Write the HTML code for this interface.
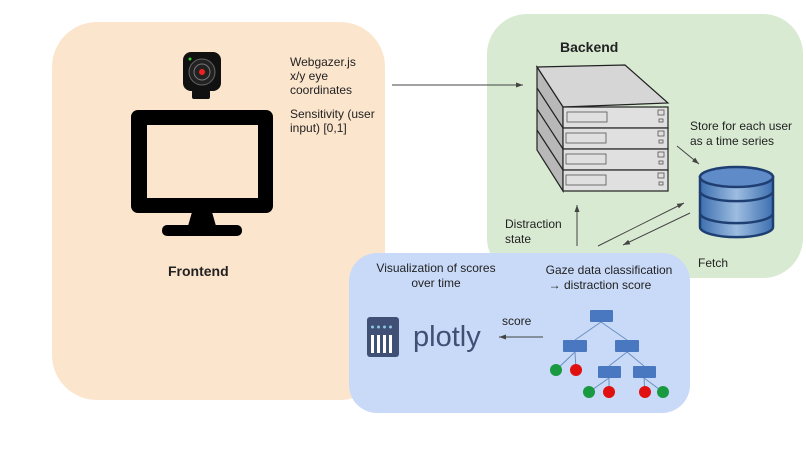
<!DOCTYPE html>
<html><head><meta charset="utf-8"><style>
body{margin:0;background:#fff}
svg text{font-family:"Liberation Sans",sans-serif;fill:#222}
</style></head><body>
<svg width="806" height="453" viewBox="0 0 806 453" xmlns="http://www.w3.org/2000/svg">
<defs><marker id="a" markerWidth="8" markerHeight="8" refX="7" refY="4" orient="auto" markerUnits="userSpaceOnUse"><path d="M0,1.5 L7,4 L0,6.5z" fill="#444"/></marker>
<linearGradient id="db" x1="0" x2="1"><stop offset="0" stop-color="#3d6fb0"/><stop offset=".5" stop-color="#9dbde0"/><stop offset="1" stop-color="#3d6fb0"/></linearGradient></defs>
<rect x="52" y="22" width="333" height="378" rx="45" fill="#fce5cd"/>
<rect x="487" y="14" width="316" height="264" rx="40" fill="#d9ead3"/>
<rect x="349" y="253" width="341" height="160" rx="28" fill="#c9daf8"/>
<!-- camera -->
<rect x="192" y="90" width="18" height="9" rx="2" fill="#111"/>
<rect x="183" y="52" width="38" height="39" rx="8" fill="#111"/>
<circle cx="202" cy="72" r="13" fill="#222" stroke="#666" stroke-width="1"/>
<circle cx="202" cy="72" r="8" fill="none" stroke="#777" stroke-width="1"/>
<circle cx="202" cy="72" r="3" fill="#e22"/>
<circle cx="190" cy="59" r="1.5" fill="#3c3"/>
<!-- monitor -->
<rect x="131" y="110" width="142" height="103" rx="7" fill="#000"/>
<rect x="147" y="125" width="111" height="73" fill="#fce5cd"/>
<path d="M192,212 L212,212 L216,226 L188,226z" fill="#000"/>
<rect x="162" y="225" width="80" height="11" rx="5" fill="#000"/>
<text x="168" y="276" font-size="14" font-weight="bold">Frontend</text>
<text font-size="12"><tspan x="290" y="66">Webgazer.js</tspan><tspan x="290" y="80">x/y eye</tspan><tspan x="290" y="94">coordinates</tspan><tspan x="290" y="118">Sensitivity (user</tspan><tspan x="290" y="132">input) [0,1]</tspan></text>
<line x1="392" y1="85" x2="523" y2="85" stroke="#444" marker-end="url(#a)"/>
<text x="560" y="52" font-size="14" font-weight="bold">Backend</text>
<!-- server -->
<g stroke="#222" stroke-width="1.2">
<path d="M537,67 L625,65 L668,103 L563,107z" fill="#d6d6d6"/>
<path d="M537,67 L563,107 L563,191 L537,150z" fill="#b8b8b8"/>
<rect x="563" y="107" width="105" height="21" fill="#e0e0e0"/>
<rect x="563" y="128" width="105" height="21" fill="#e0e0e0"/>
<rect x="563" y="149" width="105" height="21" fill="#e0e0e0"/>
<rect x="563" y="170" width="105" height="21" fill="#e0e0e0"/>
<path d="M537,88 L563,128 M537,109 L563,149 M537,130 L563,170" fill="none"/>
</g>
<g fill="none" stroke="#555" stroke-width=".8">
<rect x="567" y="112" width="40" height="10"/><rect x="566" y="133" width="40" height="10"/><rect x="566" y="154" width="40" height="10"/><rect x="566" y="175" width="40" height="10"/>
<rect x="658" y="110" width="6" height="5"/><rect x="659" y="119" width="4" height="3"/>
<rect x="658" y="131" width="6" height="5"/><rect x="659" y="140" width="4" height="3"/>
<rect x="658" y="152" width="6" height="5"/><rect x="659" y="161" width="4" height="3"/>
<rect x="658" y="173" width="6" height="5"/><rect x="659" y="182" width="4" height="3"/>
</g>
<text font-size="12"><tspan x="690" y="130">Store for each user</tspan><tspan x="690" y="145">as a time series</tspan></text>
<line x1="677" y1="146" x2="699" y2="164" stroke="#444" marker-end="url(#a)"/>
<!-- db -->
<g stroke="#1f3f73" stroke-width="2.5">
<path d="M700,215 v12 a36,10 0 0 0 73,0 v-12z" fill="url(#db)"/>
<path d="M700,193 v20 a36,10 0 0 0 73,0 v-20z" fill="url(#db)"/>
<path d="M700,177 v14 a36,10 0 0 0 73,0 v-14z" fill="url(#db)"/>
<ellipse cx="736.5" cy="177" rx="36.5" ry="10" fill="#5f8cc8"/>
</g>
<text font-size="12"><tspan x="505" y="228">Distraction</tspan><tspan x="505" y="243">state</tspan><tspan x="698" y="267">Fetch</tspan></text>
<line x1="577" y1="246" x2="577" y2="205" stroke="#444" marker-end="url(#a)"/>
<line x1="598" y1="246" x2="684" y2="203" stroke="#444" marker-end="url(#a)"/>
<line x1="690" y1="213" x2="623" y2="245" stroke="#444" marker-end="url(#a)"/>
<text font-size="12" text-anchor="middle"><tspan x="436" y="272">Visualization of scores</tspan><tspan x="436" y="287">over time</tspan><tspan x="609" y="274">Gaze data classification</tspan><tspan x="600" y="289">→ distraction score</tspan></text>
<!-- plotly -->
<rect x="367" y="317" width="32" height="40" rx="3" fill="#3f4f75"/>
<g fill="#fff"><rect x="371" y="335" width="3" height="18"/><rect x="377" y="335" width="3" height="18"/><rect x="383" y="335" width="3" height="18"/><rect x="389" y="335" width="3" height="18"/></g>
<g fill="#8ec5e0"><circle cx="372.5" cy="327" r="1.5"/><circle cx="378.5" cy="327" r="1.5"/><circle cx="384.5" cy="327" r="1.5"/><circle cx="390.5" cy="327" r="1.5"/></g>
<text x="413" y="346" font-size="29" style="fill:#3f4f75">plotly</text>
<text x="502" y="325" font-size="12">score</text>
<line x1="543" y1="337" x2="499" y2="337" stroke="#444" marker-end="url(#a)"/>
<!-- tree -->
<g stroke="#6a8fc0" stroke-width="1"><path d="M601,322 L575,340 M601,322 L627,340 M575,352 L556,370 M575,352 L576,370 M627,352 L609,366 M627,352 L644,366 M609,378 L589,392 M609,378 L609,392 M644,378 L645,392 M644,378 L663,392"/></g>
<g fill="#4a78c0"><rect x="590" y="310" width="23" height="12" rx="1"/><rect x="563" y="340" width="24" height="12" rx="1"/><rect x="615" y="340" width="24" height="12" rx="1"/><rect x="598" y="366" width="23" height="12" rx="1"/><rect x="633" y="366" width="23" height="12" rx="1"/></g>
<g><circle cx="556" cy="370" r="6" fill="#1a9a40"/><circle cx="576" cy="370" r="6" fill="#e01010"/><circle cx="589" cy="392" r="6" fill="#1a9a40"/><circle cx="609" cy="392" r="6" fill="#e01010"/><circle cx="645" cy="392" r="6" fill="#e01010"/><circle cx="663" cy="392" r="6" fill="#1a9a40"/></g>
</svg>
</body></html>
